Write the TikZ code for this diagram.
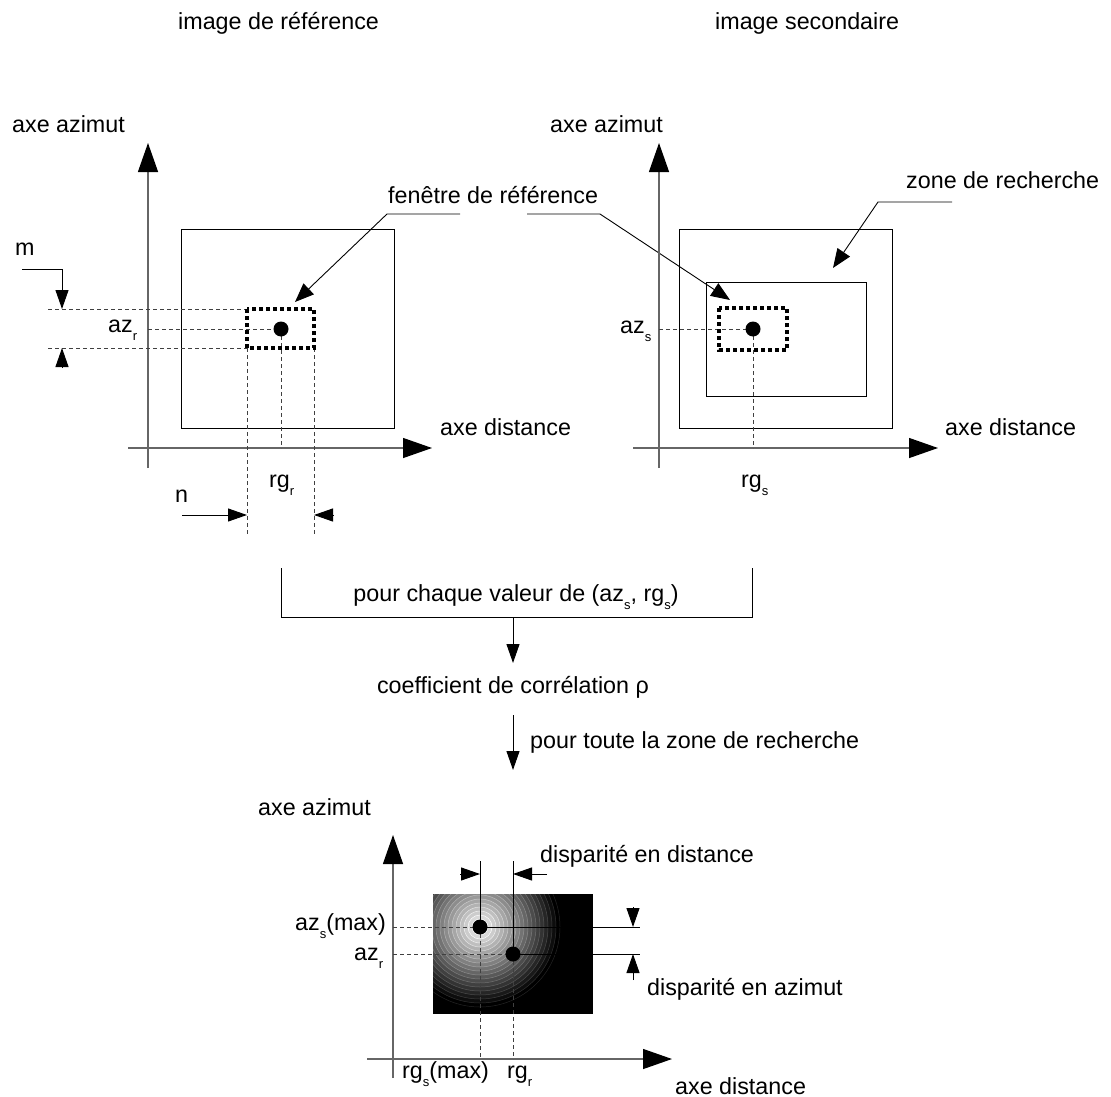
\documentclass[tikz,border=0pt]{standalone}
\usepackage{fontspec}
\setmainfont{Liberation Sans}
\usetikzlibrary{arrows.meta}
\newcommand{\mysub}[1]{\raisebox{-8pt}{\fontsize{13}{13}\selectfont #1}}
\begin{document}
\begin{tikzpicture}[x=1pt,y=-1pt,
  lbl/.style={inner sep=0pt, font=\fontsize{23.3}{28}\selectfont, anchor=base west},
  axisline/.style={draw=black!60, line width=1.3pt, -{Triangle[length=29pt,width=20pt,color=black]}},
  frame/.style={draw=black, line width=1pt},
  winbox/.style={draw=black, line width=3.5pt, dash pattern=on 4pt off 3pt},
  guide/.style={draw=black!75, line width=1pt, dash pattern=on 4pt off 3pt},
  lead/.style={draw=black, line width=0.9pt, -{Triangle[length=19pt,width=15pt]}},
  dim/.style={draw=black, line width=1pt, -{Triangle[length=19pt,width=13pt]}},
  dotnode/.style={fill=black, circle, inner sep=0pt, minimum size=15pt},
]
\useasboundingbox (0,0) rectangle (1111,1097);

% ---------- titles ----------
\node[lbl] (t1) at (178,30) {image de référence};
\node[lbl] (t2) at (715,30) {image secondaire};

% ---------- left diagram ----------
\node[lbl] (lax) at (12,132) {axe azimut};
\node[lbl] (ldist) at (440,435) {axe distance};
\coordinate (LV0) at (148,468); \coordinate (LV1) at (148,143);
\coordinate (LH0) at (128,448); \coordinate (LH1) at (432,448);
\draw[axisline] (LV0) -- (LV1);
\draw[axisline] (LH0) -- (LH1);
\draw[frame] (181,229) rectangle (394,428);
\coordinate (Lc) at (281,329);
\draw[guide] (48,309) -- (247,309);
\draw[guide] (48,348) -- (247,348);
\draw[guide] (148,329) -- (Lc);
\draw[guide] (247,348) -- (247,535);
\draw[guide] (314,348) -- (314,535);
\draw[guide] (Lc) -- (281,448);
\draw[winbox] (247,309) rectangle (314,348);
\node[dotnode] (Ld) at (Lc) {};
\node[lbl] (m) at (15,255) {m};
\draw[dim] (22,269) -- (62,269) -- (62,309);
\draw[dim] (62,368) -- (62,348);
\node[lbl] (n) at (175,502) {n};
\draw[dim] (182,515) -- (247,515);
\draw[dim] (334,515) -- (314,515);
\node[lbl] (azr) at (108,332) {az\mysub{r}};
\node[lbl] (rgr) at (269,487) {rg\mysub{r}};
\node[lbl] (fen) at (388,203) {fenêtre de référence};
\draw[lead] (460,214) -- (387,214) -- (295,302);
\draw[lead] (527,214) -- (600,214) -- (730,300);

% ---------- right diagram ----------
\node[lbl] (rax) at (550,132) {axe azimut};
\node[lbl] (rdist) at (945,435) {axe distance};
\coordinate (RV0) at (659,468); \coordinate (RV1) at (659,143);
\coordinate (RH0) at (633,448); \coordinate (RH1) at (938,448);
\draw[axisline] (RV0) -- (RV1);
\draw[axisline] (RH0) -- (RH1);
\draw[frame] (679,229) rectangle (892,428);
\draw[frame] (706,282) rectangle (866,396);
\coordinate (Rc) at (753,329);
\draw[guide] (659,329) -- (Rc);
\draw[guide] (Rc) -- (753,448);
\draw[winbox] (719,308) rectangle (787,350);
\node[dotnode] (Rd) at (Rc) {};
\node[lbl] (azs) at (620,333) {az\mysub{s}};
\node[lbl] (rgs) at (741,487) {rg\mysub{s}};
\node[lbl] (zone) at (906,188) {zone de recherche};
\draw[lead] (952,202) -- (878,202) -- (833,268);

% ---------- middle ----------
\draw[frame] (281,568) -- (281,617) -- (752,617) -- (752,568);
\node[lbl, anchor=base] (pc) at (516,601) {pour chaque valeur de (az\mysub{s}, rg\mysub{s})};
\node[lbl, anchor=base] (coef) at (513,693) {coefficient de corrélation ρ};
\draw[dim] (513,617) -- (513,663);
\draw[dim] (513,715) -- (513,770);
\node[lbl] (ptz) at (530,748) {pour toute la zone de recherche};

% ---------- bottom diagram ----------
\node[lbl] (bax) at (258,815) {axe azimut};
\node[lbl] (bdist) at (675,1094) {axe distance};
\begin{scope}
  \clip (433,894) rectangle (593,1014);
  \fill[black] (433,894) rectangle (593,1014);
  \foreach \r in {80,76,...,4}{
    \pgfmathtruncatemacro\pc{100*\r/80}
    \pgfmathtruncatemacro\pl{max(0,100*\r/80-14)}
    \fill[black!\pc!white] (480,927) circle[radius=\r pt];
    \draw[black!\pl!white, line width=0.5pt] (480,927) circle[radius=\r pt];
  }
\end{scope}
\coordinate (B1) at (480,927);
\coordinate (B2) at (513,954);
\coordinate (BV0) at (393,1078); \coordinate (BV1) at (393,835);
\coordinate (BH0) at (367,1059); \coordinate (BH1) at (672,1059);
\draw[axisline] (BV0) -- (BV1);
\draw[axisline] (BH0) -- (BH1);
\draw[guide] (393,927) -- (B1);
\draw[guide] (393,954) -- (B2);
\draw[guide] (B1) -- (480,1059);
\draw[guide] (B2) -- (513,1059);
\draw[frame] (B1) -- (480,861);
\draw[frame] (B2) -- (513,861);
\draw[frame] (B1) -- (640,927);
\draw[frame] (B2) -- (640,954);
\node[dotnode] (Bd1) at (B1) {};
\node[dotnode] (Bd2) at (B2) {};
\draw[dim] (460,874) -- (480,874);
\draw[dim] (547,874) -- (513,874);
\draw[dim] (633,907) -- (633,927);
\draw[dim] (633,980) -- (633,954);
\node[lbl] (dd) at (540,862) {disparité en distance};
\node[lbl] (da) at (647,995) {disparité en azimut};
\node[lbl] (azsm) at (295,930) {az\mysub{s}(max)};
\node[lbl] (azr2) at (354,960) {az\mysub{r}};
\node[lbl] (rgsm) at (402,1078) {rg\mysub{s}(max)};
\node[lbl] (rgr2) at (507,1078) {rg\mysub{r}};
\end{tikzpicture}
\end{document}
